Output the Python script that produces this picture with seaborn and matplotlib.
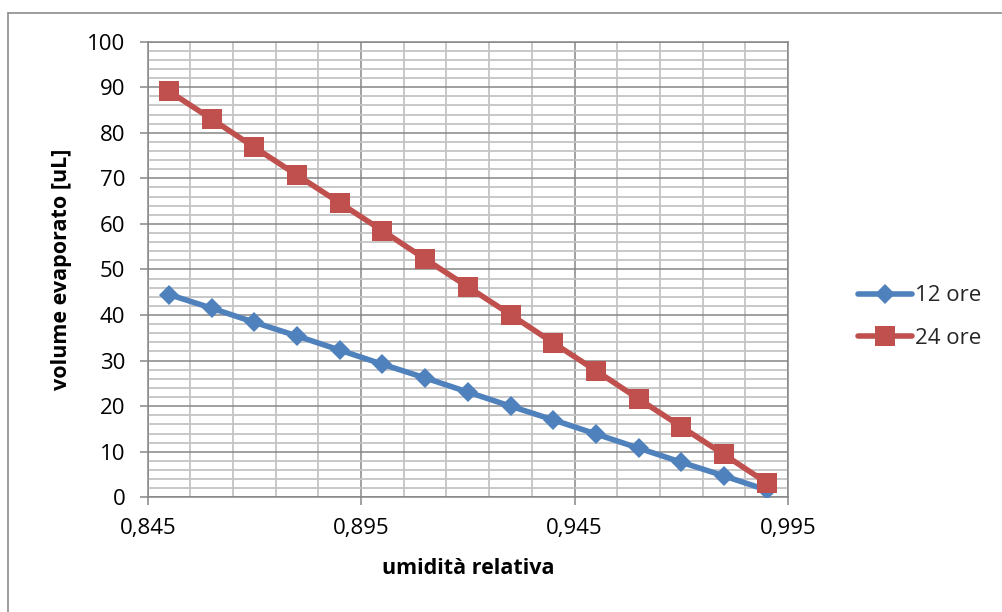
import numpy as np
import pandas as pd
import matplotlib
matplotlib.use("Agg")
import matplotlib.pyplot as plt
from matplotlib.ticker import FixedLocator, MultipleLocator, FuncFormatter
from matplotlib.lines import Line2D
import seaborn as sns

# Relative humidity (x) and evaporated volume after 12 h and 24 h
umidita = [0.85, 0.86, 0.87, 0.88, 0.89, 0.90, 0.91, 0.92,
           0.93, 0.94, 0.95, 0.96, 0.97, 0.98, 0.99]
vol_12_ore = [44.5, 41.5, 38.4, 35.4, 32.3, 29.2, 26.2, 23.1,
              20.0, 17.0, 13.9, 10.8, 7.7, 4.7, 1.6]
vol_24_ore = [89.1, 83.0, 76.8, 70.7, 64.6, 58.5, 52.3, 46.2,
              40.1, 33.9, 27.8, 21.6, 15.5, 9.4, 3.2]
serie = ["12 ore", "24 ore"]
x_tick_values = [0.845, 0.895, 0.945, 0.995]

df = pd.DataFrame({
    "umidita": umidita * 2,
    "volume": vol_12_ore + vol_24_ore,
    "serie": [serie[0]] * len(umidita) + [serie[1]] * len(umidita),
})

sns.set_theme(style="white")
plt.rcParams["font.family"] = ["Open Sans", "DejaVu Sans"]

fig = plt.figure(figsize=(10.02, 6.12), dpi=100)
ax = fig.add_axes([0.1474, 0.1874, 0.6390, 0.7446])

colori = {"12 ore": "#4F81BD", "24 ore": "#C0504D"}
marker = {"12 ore": "D", "24 ore": "s"}
msize = {"12 ore": 10.5, "24 ore": 14.5}

for i, nome in enumerate(serie):
    sns.lineplot(data=df[df["serie"] == nome], x="umidita", y="volume",
                 color=colori[nome], marker=marker[nome], markersize=msize[nome],
                 markeredgewidth=0, linewidth=4, ax=ax, legend=False,
                 zorder=3 + i)

ax.set_xlim(0.845, 0.995)
ax.set_ylim(0, 100)
ax.xaxis.set_major_locator(FixedLocator(x_tick_values))
ax.xaxis.set_minor_locator(FixedLocator(np.round(np.arange(0.855, 0.99, 0.01), 3)))
ax.yaxis.set_major_locator(MultipleLocator(10))
ax.yaxis.set_minor_locator(MultipleLocator(2))
ax.xaxis.set_major_formatter(FuncFormatter(lambda v, p: f"{v:.3f}".replace(".", ",")))

ax.set_axisbelow(True)
ax.grid(which="minor", color="#c4c4c4", linewidth=1.3)
ax.grid(which="major", color="#868686", linewidth=1.1)
for s in ax.spines.values():
    s.set_color("#868686")
    s.set_linewidth(1.1)

ax.tick_params(which="major", bottom=True, left=True, direction="out",
               length=6, width=1.1, color="#868686", labelsize=16,
               labelcolor="black")
ax.tick_params(axis="x", which="major", pad=9)
ax.tick_params(axis="y", which="major", pad=10)
ax.tick_params(which="minor", length=0)

ax.set_xlabel("umidità relativa", fontsize=15.5, fontweight="bold", color="black")
ax.set_ylabel("volume evaporato [uL]", fontsize=15.5, fontweight="bold", color="black")
ax.xaxis.set_label_coords(0.5, -0.133)
ax.yaxis.set_label_coords(-0.118, 0.5)

handles = [Line2D([], [], color=colori[n], marker=marker[n], markersize=msize[n],
                  markeredgewidth=0, linewidth=4) for n in serie]
fig.legend(handles, serie, loc="center left", bbox_to_anchor=(0.856, 0.482),
           frameon=False, fontsize=16, handlelength=2.45, handletextpad=0.15,
           labelspacing=0.95, borderpad=0, borderaxespad=0)

# chart area frame
fig.add_artist(Line2D([8 / 1002, 8 / 1002], [0, 1 - 13 / 612],
                      transform=fig.transFigure, color="#8c8c8c", linewidth=1.2))
fig.add_artist(Line2D([8 / 1002, 1], [1 - 13 / 612, 1 - 13 / 612],
                      transform=fig.transFigure, color="#8c8c8c", linewidth=1.2))

fig.savefig("out.png", dpi=100)
